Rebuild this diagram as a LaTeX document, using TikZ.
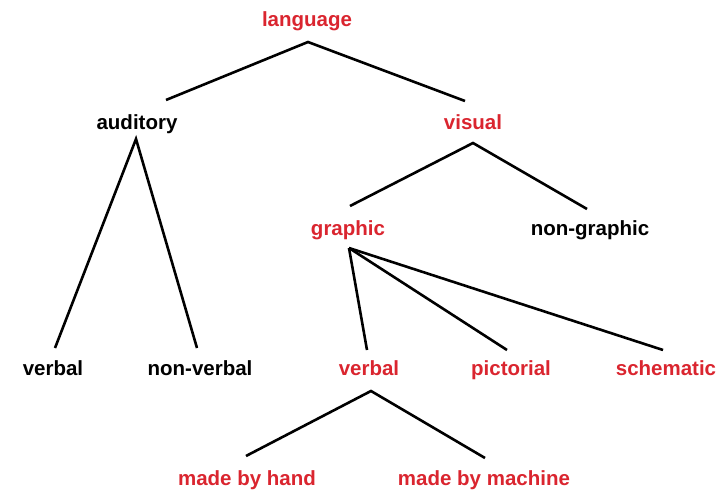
\documentclass[tikz,border=0pt]{standalone}
\usepackage{fontspec}
\setmainfont{Liberation Sans}
\usetikzlibrary{calc}
\definecolor{termred}{RGB}{218,37,47}
\begin{document}
\begin{tikzpicture}[x=1pt,y=-1pt,
  term/.style={anchor=base,inner sep=0pt,font=\fontsize{20.5}{24}\selectfont\bfseries},
  key/.style={term,text=termred},
  plain/.style={term,text=black},
  branch/.style={draw=black,line width=2.6pt}]
\useasboundingbox (0,0) rectangle (718,495);
% terms
\node[key]   (language)  at (307,27)  {language};
\node[plain] (auditory)  at (137,129) {auditory};
\node[key]   (visual)    at (473,129) {visual};
\node[plain] (verbalA)   at (53,375)  {verbal};
\node[plain] (nonverbal) at (200,375) {non-verbal};
\node[key]   (graphic)   at (348,235) {graphic};
\node[plain] (nongraphic) at (590,235) {non-graphic};
\node[key]   (verbalB)   at (369,375) {verbal};
\node[key]   (pictorial) at (511,375) {pictorial};
\node[key]   (schematic) at (666,375) {schematic};
\node[key]   (hand)      at (247,485) {made by hand};
\node[key]   (machine)   at (484,485) {made by machine};
% branches
\draw[branch] ($(auditory.base)+(29,-29)$) -- ($(language.base)+(1,15)$) -- ($(visual.base)+(-8,-28)$);
\draw[branch] ($(verbalA.base)+(2,-27)$) -- ($(auditory.base)+(-1,10)$) -- ($(nonverbal.base)+(-3,-27)$);
\draw[branch] ($(graphic.base)+(2,-29)$) -- ($(visual.base)+(0,14)$) -- ($(nongraphic.base)+(-3,-26)$);
\draw[branch] ($(graphic.base)+(1,13)$) -- ($(verbalB.base)+(-2,-25)$);
\draw[branch] ($(graphic.base)+(1,13)$) -- ($(pictorial.base)+(-4,-25)$);
\draw[branch] ($(graphic.base)+(1,13)$) -- ($(schematic.base)+(-3,-25)$);
\draw[branch] ($(hand.base)+(-1,-29)$) -- ($(verbalB.base)+(2,16)$) -- ($(machine.base)+(1,-27)$);
\end{tikzpicture}
\end{document}
